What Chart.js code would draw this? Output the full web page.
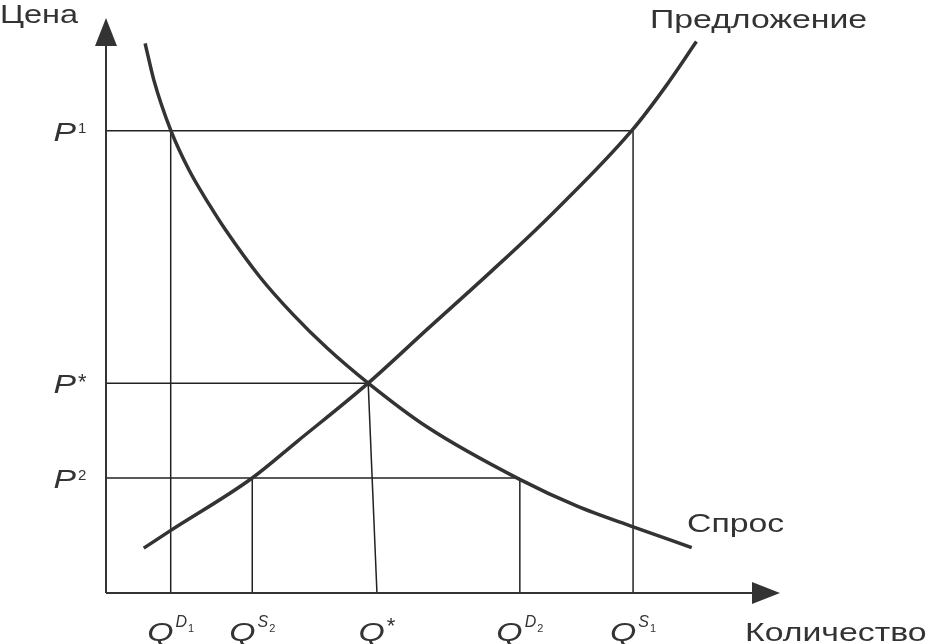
<!DOCTYPE html>
<html>
<head>
<meta charset="utf-8">
<script src="https://cdn.jsdelivr.net/npm/chart.js@4.4.1/dist/chart.umd.min.js"></script>
<style>
  body { margin: 0; background: #fff; }
  #wrap { width: 928px; height: 644px; }
</style>
</head>
<body>
<div id="wrap"><canvas id="mainChart" width="928" height="644"></canvas></div>
<script>
// Demand / supply curves (quantity, price)
const demandQ = [0.58, 0.71, 0.96, 1.23, 1.54, 1.77, 2.28, 2.77, 3.28, 3.89, 4.76, 6.13, 6.99, 7.82, 8.69];
const demandP = [9.56, 8.92, 8.05, 7.36, 6.74, 6.32, 5.50, 4.85, 4.26, 3.65, 2.89, 1.98, 1.51, 1.15, 0.79];
const supplyQ = [0.56, 0.95, 2.17, 2.83, 3.89, 4.76, 5.74, 6.45, 7.80, 8.31, 8.76];
const supplyP = [0.78, 1.08, 2.00, 2.63, 3.65, 4.58, 5.62, 6.40, 8.04, 8.82, 9.59];

// Price levels and the quantity where each guide line ends
const priceLevels = [8.04, 3.65, 2.00];
const priceSup = ['1', '*', '2'];
const priceLineEnd = [7.82, 3.89, 6.14];

// Quantity levels, the point each guide line rises to, and tick labels
const quantityLevels = [0.96, 2.17, 4.02, 6.14, 7.82];
const quantityTopQ = [0.96, 2.17, 3.89, 6.14, 7.82];
const quantityTop = [8.04, 2.00, 3.65, 2.00, 8.04];
const quantitySup = ['D', 'S', '*', 'D', 'S'];
const quantitySub = ['1', '2', '', '2', '1'];

const FONT = '"Liberation Sans", Arial, sans-serif';
const INK = '#333';
const STRETCH = 1.3;   // the original lettering is wide

function guideSets() {
    const sets = [];
    priceLevels.forEach((p, i) => {
        sets.push({ data: [{ x: 0, y: p }, { x: priceLineEnd[i], y: p }] });
    });
    quantityLevels.forEach((q, i) => {
        sets.push({ data: [{ x: q, y: 0 }, { x: quantityTopQ[i], y: quantityTop[i] }] });
    });
    return sets.map(s => Object.assign(s, {
        showLine: true, borderColor: '#222', borderWidth: 1.5,
        pointRadius: 0, order: 2
    }));
}

function wideText(ctx, text, x, y, font, sx) {
    ctx.save();
    ctx.translate(x, y);
    ctx.scale(sx, 1);
    ctx.font = font;
    ctx.fillText(text, 0, 0);
    ctx.restore();
}

function drawParts(ctx, parts, cx, baseline) {
    let total = 0;
    parts.forEach(p => {
        ctx.font = p.font;
        total += ctx.measureText(p.text).width * (p.sx || 1) + (p.gap || 0);
    });
    let x = cx - total / 2;
    parts.forEach(p => {
        ctx.font = p.font;
        x += p.gap || 0;
        wideText(ctx, p.text, x, baseline + (p.dy || 0), p.font, p.sx || 1);
        x += ctx.measureText(p.text).width * (p.sx || 1);
    });
}

const decorPlugin = {
    id: 'decor',
    afterDraw(chart) {
        const ctx = chart.ctx;
        const a = chart.chartArea;
        const xs = chart.scales.x, ys = chart.scales.y;
        ctx.save();
        // axes with arrows
        ctx.strokeStyle = INK;
        ctx.fillStyle = INK;
        ctx.lineWidth = 2;
        ctx.beginPath();
        ctx.moveTo(a.left, a.bottom);
        ctx.lineTo(a.left, a.top + 26);
        ctx.moveTo(a.left, a.bottom);
        ctx.lineTo(a.right - 26, a.bottom);
        ctx.stroke();
        ctx.beginPath();
        ctx.moveTo(a.left, a.top);
        ctx.lineTo(a.left - 11, a.top + 28);
        ctx.lineTo(a.left + 11, a.top + 28);
        ctx.closePath();
        ctx.fill();
        ctx.beginPath();
        ctx.moveTo(a.right, a.bottom);
        ctx.lineTo(a.right - 28, a.bottom - 11);
        ctx.lineTo(a.right - 28, a.bottom + 11);
        ctx.closePath();
        ctx.fill();

        // plain texts
        ctx.textBaseline = 'alphabetic';
        ctx.textAlign = 'left';
        wideText(ctx, 'Цена', 0, 23, '25px ' + FONT, STRETCH);
        wideText(ctx, 'Предложение', 650, 28, '26px ' + FONT, STRETCH);
        wideText(ctx, 'Спрос', 687, 532, '26px ' + FONT, STRETCH);
        wideText(ctx, 'Количество', 745, 641, '26px ' + FONT, STRETCH);

        // price labels
        const big = 'italic 26px ' + FONT;
        priceLevels.forEach((p, i) => {
            const y = ys.getPixelForValue(p);
            const sup = priceSup[i] === '*'
                ? { text: '*', font: '22px ' + FONT, dy: -4, gap: 2 }
                : { text: priceSup[i], font: '15px ' + FONT, dy: -8, gap: 2 };
            drawParts(ctx, [{ text: 'P', font: big, sx: STRETCH }, sup], a.left - 36, y + 10);
        });

        // quantity labels
        quantityLevels.forEach((q, i) => {
            const x = xs.getPixelForValue(q);
            const parts = [{ text: 'Q', font: big, sx: STRETCH }];
            if (quantitySup[i] === '*') {
                parts.push({ text: '*', font: '22px ' + FONT, dy: -8, gap: 2 });
            } else {
                parts.push({ text: quantitySup[i], font: 'italic 16px ' + FONT, dy: -14, gap: 2 });
                parts.push({ text: quantitySub[i], font: '11px ' + FONT, dy: -9, gap: 1 });
            }
            drawParts(ctx, parts, x, 641);
        });
        ctx.restore();
    }
};

const ctx = document.getElementById('mainChart').getContext('2d');
new Chart(ctx, {
    type: 'scatter',
    data: {
        datasets: [{
            label: 'Спрос',
            data: demandQ.map((q, i) => ({ x: q, y: demandP[i] })),
            showLine: true,
            borderColor: INK,
            borderWidth: 3.5,
            pointRadius: 0,
            cubicInterpolationMode: 'monotone',
            order: 1
        }, {
            label: 'Предложение',
            data: supplyQ.map((q, i) => ({ x: q, y: supplyP[i] })),
            showLine: true,
            borderColor: INK,
            borderWidth: 3.5,
            pointRadius: 0,
            cubicInterpolationMode: 'monotone',
            order: 1
        }].concat(guideSets())
    },
    options: {
        responsive: false,
        animation: false,
        layout: { padding: { left: 106, right: 148, top: 18, bottom: 51 } },
        scales: {
            x: { type: 'linear', min: 0, max: 10, display: false },
            y: { type: 'linear', min: 0, max: 10, display: false }
        },
        plugins: {
            legend: { display: false },
            tooltip: { enabled: false }
        }
    },
    plugins: [decorPlugin]
});
</script>
</body>
</html>
